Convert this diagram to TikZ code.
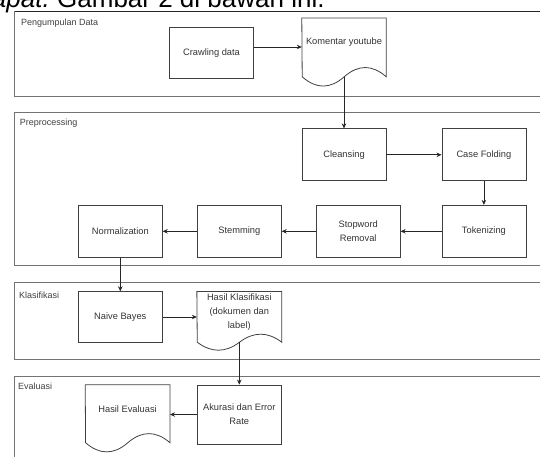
\documentclass[tikz,border=0pt]{standalone}
\usepackage{fontspec}
\setmainfont{Liberation Sans}
\usepackage{tikz}
\usetikzlibrary{positioning, calc, arrows.meta}

% outline of a document shape: node name, width, wave height
\newcommand{\docoutline}[3]{%
  \draw[docline] (#1.north west) -- (#1.north east) -- (#1.south east) -- ++(0,#3/2)
    .. controls +(-#2/6,-0.6*#3) and +(#2/6,-0.6*#3) .. ++(-#2/2,0)
    .. controls +(-#2/6,0.6*#3) and +(#2/6,0.6*#3) .. ++(-#2/2,0)
    -- cycle;}

\begin{document}
\begin{tikzpicture}[
    x=1pt, y=-1pt,
    lane/.style={draw=black!55, line width=0.8pt},
    lanelabel/.style={anchor=west, inner sep=0pt, font=\fontsize{9}{11}\selectfont, text=black!75},
    procbox/.style={rectangle, draw=black!75, line width=0.8pt, minimum width=84pt,
                    minimum height=52pt, align=center, inner sep=1pt,
                    font=\fontsize{9.3}{14}\selectfont, text=black!80},
    docbox/.style={rectangle, minimum width=84pt, align=center, inner sep=1pt,
                   font=\fontsize{9.3}{14}\selectfont, text=black!80},
    docline/.style={draw=black!75, line width=0.8pt},
    flow/.style={draw=black!85, line width=0.7pt, -{Stealth[length=5pt,width=4.5pt]}},
  ]
  \clip (0,0) rectangle (540,457);

  % caption line above the figure
  \node[anchor=base west, inner sep=0pt, font=\fontsize{26}{30}\selectfont] (capR) at (57,7.3) {Gambar 2 di bawah ini.};
  \node[anchor=base east, inner sep=0pt, font=\fontsize{26}{30}\selectfont\itshape] (capL) at (50,7.3) {dapat.};

  % lanes
  \draw[lane] (14.5,11) rectangle (560,96);
  \draw[black!85, line width=0.9pt] (14.5,11) -- (560,11);
  \draw[lane] (14.5,112.7) rectangle (560,265.5);
  \draw[lane] (14.5,282.7) rectangle (560,359.3);
  \draw[lane] (14.5,376.5) rectangle (560,470);

  \node[lanelabel] (lbl1) at (21,23) {Pengumpulan Data};
  \node[lanelabel] (lbl2) at (19.6,122.7) {Preprocessing};
  \node[lanelabel] (lbl3) at (18.9,295.7) {Klasifikasi};
  \node[lanelabel] (lbl4) at (17.9,386.7) {Evaluasi};

  % Pengumpulan Data
  \node[procbox, minimum height=51pt] (crawl) at (211.5,52.8) {Crawling data};
  \node[docbox, minimum height=48pt] (komentar) at (344,42.3) {Komentar youtube};
  \docoutline{komentar}{84}{20.6}

  % Preprocessing
  \node[procbox] (cleansing) at (344,154.8) {Cleansing};
  \node[procbox] (casefold) at (483.9,154.8) {Case Folding};
  \node[procbox] (tokenizing) at (483.9,231.3) {Tokenizing};
  \node[procbox] (stopword) at (358.2,231.3) {Stopword\\Removal};
  \node[procbox] (stemming) at (239.3,231.3) {Stemming};
  \node[procbox] (normal) at (120.3,231.3) {Normalization};

  % Klasifikasi
  \node[procbox, minimum height=50.6pt] (naive) at (120.3,317) {Naive Bayes};
  \node[docbox, minimum height=41.4pt, minimum width=84.5pt] (hasilklas) at (239.3,312.4) {Hasil Klasifikasi\\(dokumen dan\\label)};
  \docoutline{hasilklas}{84.5}{17.8}

  % Evaluasi
  \node[procbox, minimum height=59pt] (akurasi) at (239.3,414.5) {Akurasi dan Error\\Rate};
  \node[docbox, minimum height=47.4pt, minimum width=84.4pt] (hasileval) at (127.6,408.7) {Hasil Evaluasi};
  \docoutline{hasileval}{84.4}{20.3}

  % connectors
  \draw[flow] ([yshift=5.8pt]crawl.east) -- ([yshift=5.8pt]crawl.east -| komentar.west);
  \draw[flow] ([yshift=-10.3pt]komentar.south) -- (cleansing.north);
  \draw[flow] (cleansing) -- (casefold);
  \draw[flow] (casefold) -- (tokenizing);
  \draw[flow] (tokenizing) -- (stopword);
  \draw[flow] (stopword) -- (stemming);
  \draw[flow] (stemming) -- (normal);
  \draw[flow] (normal) -- (naive);
  \draw[flow] (naive.east) -- (naive.east -| hasilklas.west);
  \draw[flow] ([yshift=-8.9pt]hasilklas.south) -- (akurasi.north);
  \draw[flow] (akurasi.west) -- (akurasi.west -| hasileval.east);
\end{tikzpicture}
\end{document}
